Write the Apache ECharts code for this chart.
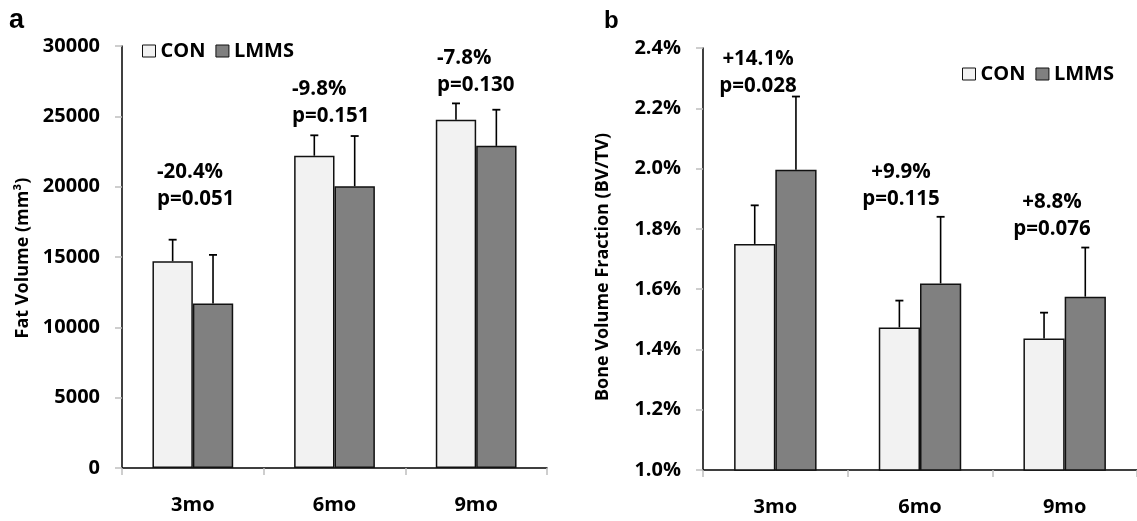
<!DOCTYPE html>
<html>
<head>
<meta charset="utf-8">
<script src="https://cdn.jsdelivr.net/npm/echarts@6/dist/echarts.min.js"></script>
<style>
html,body{margin:0;padding:0;background:#fff;}
#chart{width:1137px;height:521px;}
</style>
</head>
<body>
<div id="chart"></div>
<script>
// ---- data ----
var categories = ['3mo', '6mo', '9mo'];
var seriesNames = ['CON', 'LMMS'];

// Panel a: Fat Volume (mm^3)
var fatCON = [14700, 22200, 24750];
var fatCONsd = [1530, 1450, 1170];
var fatLMMS = [11700, 20030, 22900];
var fatLMMSsd = [3450, 3570, 2570];
var fatTicks = [0, 5000, 10000, 15000, 20000, 25000, 30000];
var fatAnnotPct = ['-20.4%', '-9.8%', '-7.8%'];
var fatAnnotP = ['p=0.051', 'p=0.151', 'p=0.130'];

// Panel b: Bone Volume Fraction (BV/TV), in %
var bvCON = [1.750, 1.473, 1.436];
var bvCONsd = [0.128, 0.089, 0.086];
var bvLMMS = [1.996, 1.619, 1.575];
var bvLMMSsd = [0.243, 0.221, 0.163];
var bvTicks = [1.0, 1.2, 1.4, 1.6, 1.8, 2.0, 2.2, 2.4];
var bvAnnotPct = ['+14.1%', '+9.9%', '+8.8%'];
var bvAnnotP = ['p=0.028', 'p=0.115', 'p=0.076'];

// ---- styles ----
var FONT = '"Open Sans", "Liberation Sans", sans-serif';
var CON_COLOR = '#f2f2f2';
var LMMS_COLOR = '#808080';
var CAT_GAP = 0.43;

var chart = echarts.init(document.getElementById('chart'), null, {renderer: 'canvas'});

function errorSeries(gridIdx, means, sds, sideSign) {
  var data = means.map(function (m, i) { return [i, m, m + sds[i]]; });
  return {
    type: 'custom',
    xAxisIndex: gridIdx, yAxisIndex: gridIdx,
    silent: true,
    z: 5,
    data: data,
    encode: {x: 0, y: [1, 2]},
    renderItem: function (params, api) {
      var idx = api.value(0);
      var p0 = api.coord([idx, api.value(1)]);
      var p1 = api.coord([idx, api.value(2)]);
      var catW = api.size([1, 0])[0];
      var barW = catW * (1 - CAT_GAP) / 2;
      var x = p0[0] + sideSign * barW / 2;
      var cap = 4;
      return {
        type: 'group',
        children: [
          {type: 'line', shape: {x1: x, y1: p0[1], x2: x, y2: p1[1]}, style: {stroke: '#000', lineWidth: 1.6}},
          {type: 'line', shape: {x1: x - cap, y1: p1[1], x2: x + cap, y2: p1[1]}, style: {stroke: '#000', lineWidth: 1.8}}
        ]
      };
    }
  };
}

function barSeries(name, gridIdx, values, color) {
  return {
    name: name,
    type: 'bar',
    xAxisIndex: gridIdx, yAxisIndex: gridIdx,
    data: values,
    barGap: '0%',
    barCategoryGap: (CAT_GAP * 100) + '%',
    itemStyle: {color: color, borderColor: '#111', borderWidth: 1.5},
    emphasis: {disabled: true},
    z: 3
  };
}

var axisLabelStyle = {color: '#000', fontFamily: FONT, fontWeight: 'bold', fontSize: 20};

function xAxis(gridIdx) {
  return {
    type: 'category', gridIndex: gridIdx, data: categories,
    axisLine: {show: true, lineStyle: {color: '#000', width: 1.5}},
    axisTick: {show: true, length: 7, lineStyle: {color: '#bfbfbf', width: 1.5}},
    axisLabel: Object.assign({margin: 27}, axisLabelStyle),
    splitLine: {show: false}
  };
}

function yAxis(gridIdx, min, max, interval, fmt) {
  return {
    type: 'value', gridIndex: gridIdx, min: min, max: max, interval: interval,
    axisLine: {show: true, lineStyle: {color: '#000', width: 1.5}},
    axisTick: {show: true, length: 7, lineStyle: {color: '#bfbfbf', width: 1.5}},
    axisLabel: Object.assign({margin: 22, formatter: fmt}, axisLabelStyle),
    splitLine: {show: false}
  };
}

var fatStep = fatTicks[1] - fatTicks[0];
var bvStep = Math.round((bvTicks[1] - bvTicks[0]) * 10) / 10;

function annotText(x, y, text, align) {
  return {
    type: 'text', x: x, y: y, silent: true,
    style: {text: text, fill: '#000', font: 'bold 20.5px ' + FONT, align: align, verticalAlign: 'middle'}
  };
}

var annotA_pos = [[157, 172], [292, 89], [437, 58]];
var annotB_pos = [[758, 59], [901, 172], [1052, 202]];
var LINE = 27.5;
var graphics = [];
for (var i = 0; i < 3; i++) {
  graphics.push(annotText(annotA_pos[i][0], annotA_pos[i][1], fatAnnotPct[i], 'left'));
  graphics.push(annotText(annotA_pos[i][0], annotA_pos[i][1] + LINE, fatAnnotP[i], 'left'));
  graphics.push(annotText(annotB_pos[i][0], annotB_pos[i][1], bvAnnotPct[i], 'center'));
  graphics.push(annotText(annotB_pos[i][0], annotB_pos[i][1] + LINE, bvAnnotP[i], 'center'));
}
// panel letters
graphics.push({type: 'text', x: 9, y: 21, style: {text: 'a', fill: '#000', font: 'bold 27px "Liberation Sans", Arial, sans-serif', verticalAlign: 'middle'}});
graphics.push({type: 'text', x: 604, y: 21, style: {text: 'b', fill: '#000', font: 'bold 24px "Liberation Sans", Arial, sans-serif', verticalAlign: 'middle'}});
// y-axis titles
graphics.push({type: 'text', x: 23, y: 258, rotation: Math.PI / 2,
  style: {text: 'Fat Volume (mm³)', fill: '#000', font: 'bold 18px ' + FONT, align: 'center', verticalAlign: 'middle'}});
graphics.push({type: 'text', x: 603, y: 267, rotation: Math.PI / 2,
  style: {text: 'Bone Volume Fraction (BV/TV)', fill: '#000', font: 'bold 18px ' + FONT, align: 'center', verticalAlign: 'middle'}});

var legendCommon = {
  data: seriesNames,
  orient: 'horizontal',
  icon: 'rect',
  itemWidth: 13, itemHeight: 12,
  itemGap: 10,
  padding: 0,
  selectedMode: false,
  itemStyle: {borderColor: '#111', borderWidth: 1},
  textStyle: {color: '#000', fontFamily: FONT, fontWeight: 'bold', fontSize: 20, padding: [0, 0, 0, 0]}
};

var option = {
  backgroundColor: '#fff',
  animation: false,
  textStyle: {fontFamily: FONT},
  legend: [
    Object.assign({left: 142, top: 41}, legendCommon),
    Object.assign({left: 962, top: 64}, legendCommon)
  ],
  grid: [
    {left: 122, top: 46, width: 425, height: 422, containLabel: false, outerBoundsMode: 'none'},
    {left: 703, top: 48, width: 434, height: 422, containLabel: false, outerBoundsMode: 'none'}
  ],
  xAxis: [xAxis(0), xAxis(1)],
  yAxis: [
    yAxis(0, fatTicks[0], fatTicks[fatTicks.length - 1], fatStep, function (v) { return String(v); }),
    yAxis(1, bvTicks[0], bvTicks[bvTicks.length - 1], bvStep, function (v) { return v.toFixed(1) + '%'; })
  ],
  series: [
    barSeries('CON', 0, fatCON, CON_COLOR),
    barSeries('LMMS', 0, fatLMMS, LMMS_COLOR),
    errorSeries(0, fatCON, fatCONsd, -1),
    errorSeries(0, fatLMMS, fatLMMSsd, 1),
    barSeries('CON', 1, bvCON, CON_COLOR),
    barSeries('LMMS', 1, bvLMMS, LMMS_COLOR),
    errorSeries(1, bvCON, bvCONsd, -1),
    errorSeries(1, bvLMMS, bvLMMSsd, 1)
  ],
  graphic: graphics
};
chart.setOption(option);
</script>
</body>
</html>
